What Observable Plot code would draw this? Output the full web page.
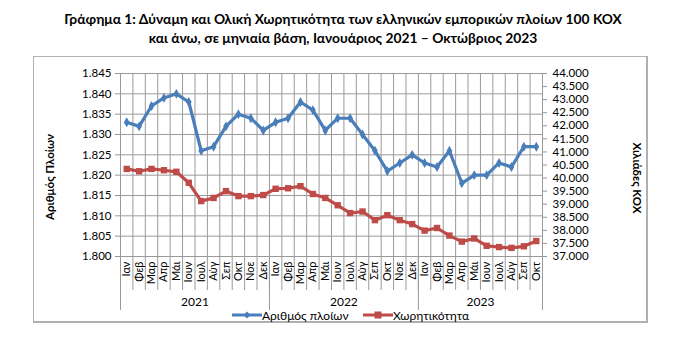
<!DOCTYPE html>
<html><head><meta charset="utf-8">
<script src="https://cdn.jsdelivr.net/npm/d3@7"></script>
<script src="https://cdn.jsdelivr.net/npm/@observablehq/plot@0.6"></script>
<style>
body{margin:0;background:#fff;font-family:Lato,"Noto Sans",sans-serif;}
#wrap{position:relative;width:686px;height:359px;overflow:hidden;}
#title{position:absolute;top:9px;left:0;width:686px;text-align:center;font-weight:bold;font-size:13.8px;line-height:19px;color:#000;}
#box{position:absolute;left:33px;top:56px;width:615px;height:267px;border:1px solid #b0b0b0;border-right-width:2px;border-bottom-width:2px;box-sizing:border-box;}
#chart{position:absolute;left:0;top:50px;}
.ytitle{position:absolute;font-weight:bold;font-size:11.5px;white-space:nowrap;transform-origin:center center;}
#yl{left:49px;top:177px;transform:translate(-50%,-50%) rotate(-90deg);}
#yr{left:637px;top:178px;transform:translate(-50%,-50%) rotate(90deg);}
#legend{position:absolute;top:307px;left:0;width:686px;font-size:12px;}
.li{position:absolute;display:flex;align-items:center;white-space:nowrap;}
</style></head>
<body><div id="wrap">
<div id="title">Γράφημα 1: Δύναμη και Ολική Χωρητικότητα των ελληνικών εμπορικών πλοίων 100 ΚΟΧ<br>και άνω, σε μηνιαία βάση, Ιανουάριος 2021 – Οκτώβριος 2023</div>
<div id="box"></div>
<div id="chart"></div>
<div class="ytitle" id="yl">Αριθμός Πλοίων</div>
<div class="ytitle" id="yr">Χιλιάδες ΚΟΧ</div>
<div id="legend">
<div class="li" style="left:232px"><svg width="30" height="16"><line x1="0" y1="8" x2="30" y2="8" stroke="#4A7EBB" stroke-width="3"/><path d="M15 4.5L18.5 8L15 11.5L11.5 8Z" fill="#4A7EBB"/></svg><span>Αριθμός πλοίων</span></div>
<div class="li" style="left:363px"><svg width="30" height="16"><line x1="0" y1="8" x2="30" y2="8" stroke="#BE4B48" stroke-width="3"/><rect x="11.5" y="4.5" width="7" height="7" fill="#BE4B48"/></svg><span>Χωρητικότητα</span></div>
</div>
</div>
<script>
const months = ["Ιαν","Φεβ","Μαρ","Απρ","Μάι","Ιουν","Ιουλ","Αύγ","Σεπ","Οκτ","Νοε","Δεκ"];
const years = ["2021","2022","2023"];
const monthsPerYear = [12, 12, 10];
// Number of ships (thousands, left axis)
const ships = [1.833,1.832,1.837,1.839,1.840,1.838,1.826,1.827,1.832,1.835,1.834,1.831,
               1.833,1.834,1.838,1.836,1.831,1.834,1.834,1.830,1.826,1.821,1.823,1.825,
               1.823,1.822,1.826,1.818,1.820,1.820,1.823,1.822,1.827,1.827];
// Gross tonnage (thousand GT, right axis)
const tonnage = [40.35,40.26,40.35,40.30,40.24,39.82,39.12,39.24,39.50,39.31,39.31,39.35,
                 39.59,39.61,39.69,39.39,39.24,38.96,38.66,38.72,38.39,38.58,38.39,38.24,
                 37.99,38.09,37.80,37.57,37.69,37.41,37.36,37.33,37.39,37.59];
const leftTicks = [1.800,1.805,1.810,1.815,1.820,1.825,1.830,1.835,1.840,1.845];
const rightTicks = [37,37.5,38,38.5,39,39.5,40,40.5,41,41.5,42,42.5,43,43.5,44];

const L0 = 1.800, L1 = 1.845, R0 = 37, R1 = 44;
const toLeft = v => L0 + (v - R0) / (R1 - R0) * (L1 - L0);
const fromLeft = v => R0 + (v - L0) / (L1 - L0) * (R1 - R0);

const n = ships.length;
const data = d3.range(n).map(i => ({i, ships: ships[i], gt: tonnage[i], label: months[i % 12]}));
const yearStarts = monthsPerYear.map((m, k) => d3.sum(monthsPerYear.slice(0, k)));
const yearData = years.map((y, k) => ({year: y, mid: yearStarts[k] + monthsPerYear[k] / 2}));
const yearBounds = [...yearStarts, n];

const gray = "#9a9a9a";
const chart = Plot.plot({
  width: 686, height: 270,
  marginLeft: 120, marginRight: 144, marginTop: 23, marginBottom: 64,
  style: {fontFamily: "Lato, 'Noto Sans', sans-serif", fontSize: "11px", color: "#000", background: "transparent"},
  x: {type: "linear", domain: [0, n], axis: null},
  y: {domain: [L0, L1], axis: null},
  marks: [
    Plot.gridY({ticks: leftTicks, stroke: gray, strokeOpacity: 1, strokeWidth: 1}),
    Plot.gridX({ticks: d3.range(n + 1), stroke: gray, strokeOpacity: 1, strokeWidth: 1}),
    Plot.axisY({anchor: "left", label: null, ticks: leftTicks, tickFormat: d3.format(".3f"), tickSize: 5, tickPadding: 4, stroke: gray, fontSize: 11.5}),
    Plot.axisY({anchor: "right", label: null, ticks: rightTicks.map(toLeft), tickFormat: v => fromLeft(v).toFixed(3), tickSize: 4, tickPadding: 6, stroke: gray, fontSize: 11.5}),
    Plot.axisX({anchor: "bottom", label: null, ticks: d3.range(n + 1), tickSize: 34, tickFormat: () => "", stroke: gray}),
    Plot.axisX({anchor: "bottom", label: null, ticks: yearBounds, tickSize: 54, tickFormat: () => "", stroke: gray}),
    Plot.text(data, {x: d => d.i + 0.5, y: () => L0, text: "label", rotate: -90, textAnchor: "end", dy: 5, fontSize: 11}),
    Plot.text(yearData, {x: "mid", y: () => L0, text: "year", dy: 46, fontSize: 12}),
    Plot.line(data, {x: d => d.i + 0.5, y: "ships", stroke: "#4A7EBB", strokeWidth: 3.2}),
    Plot.dot(data, {x: d => d.i + 0.5, y: "ships", symbol: "diamond", r: 3, fill: "#4A7EBB"}),
    Plot.line(data, {x: d => d.i + 0.5, y: d => toLeft(d.gt), stroke: "#BE4B48", strokeWidth: 3.2}),
    Plot.dot(data, {x: d => d.i + 0.5, y: d => toLeft(d.gt), symbol: "square", r: 3.6, fill: "#BE4B48"})
  ]
});
document.getElementById("chart").appendChild(chart);
</script>
</body></html>
